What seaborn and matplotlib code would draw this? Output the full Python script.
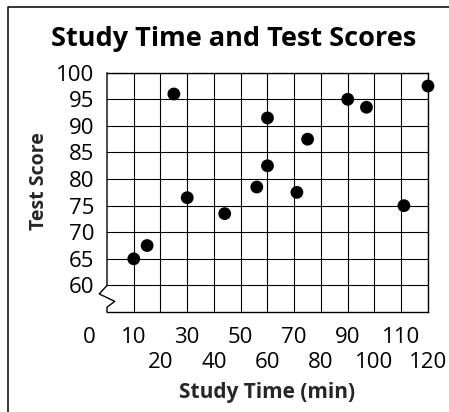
import matplotlib
matplotlib.use("Agg")
import matplotlib.pyplot as plt
from matplotlib.lines import Line2D
import seaborn as sns
import pandas as pd

# Study time (minutes) and test score for each student
study_minutes = [10, 15, 25, 30, 44, 56, 60, 60, 71, 75, 90, 97, 111, 120]
test_scores = [65, 67.5, 96, 76.5, 73.5, 78.5, 82.5, 91.5, 77.5, 87.5, 95, 93.5, 75, 97.5]

y_ticks = [60, 65, 70, 75, 80, 85, 90, 95, 100]
x_ticks_upper = [10, 30, 50, 70, 90, 110]
x_ticks_lower = [20, 40, 60, 80, 100, 120]

title = "Study Time and Test Scores"
x_label = "Study Time (min)"
y_label = "Test Score"

df = pd.DataFrame({"minutes": study_minutes, "score": test_scores})

sns.set_theme(style="white")
plt.rcParams["font.family"] = ["Open Sans", "DejaVu Sans"]

fig = plt.figure(figsize=(4.49, 4.12), dpi=100)
ax = fig.add_axes([0.2383, 0.2427, 0.9532 - 0.2383, 0.8235 - 0.2427])

sns.scatterplot(data=df, x="minutes", y="score", ax=ax, color="black",
                s=85, edgecolor="none", zorder=3, clip_on=False)

ax.set_xlim(0, 120)
ax.set_ylim(55, 100)

ax.set_yticks(y_ticks)
ax.set_yticklabels([str(v) for v in y_ticks])
ax.set_xticks(x_ticks_upper)
ax.set_xticklabels([str(v) for v in x_ticks_upper])
ax.set_xticks(x_ticks_lower, minor=True)
ax.set_xticklabels([str(v) for v in x_ticks_lower], minor=True)

tick_size = 16
ax.tick_params(axis="both", which="both", length=0, labelsize=tick_size,
               colors="black")
ax.tick_params(axis="y", pad=9)
ax.tick_params(axis="x", which="major", pad=10.5)
ax.tick_params(axis="x", which="minor", pad=29)

ax.grid(True, which="both", color="black", linewidth=0.8)
ax.set_axisbelow(True)

for side in ["top", "right", "bottom"]:
    ax.spines[side].set_visible(True)
    ax.spines[side].set_color("black")
    ax.spines[side].set_linewidth(1.0)
ax.spines["left"].set_visible(False)

# Left axis with a break symbol below 60
ax.add_line(Line2D([0, 0, -2.9, 2.9, 0, 0],
                   [100, 60, 58.4, 57.0, 55.9, 55],
                   color="black", linewidth=1.0, clip_on=False, zorder=4))

# Origin label
ax.annotate("0", xy=(-6.8, 55), xycoords="data", xytext=(0, -10.5),
            textcoords="offset points", ha="center", va="top",
            fontsize=tick_size, color="black", annotation_clip=False)

ax.set_xlabel(x_label, fontsize=15, fontweight="bold", labelpad=6.5)
ax.set_ylabel(y_label, fontsize=14, fontweight="bold")
ax.yaxis.set_label_coords(-0.18, 0.547)

fig.text(233.5 / 449, 1 - 39 / 412, title, ha="center", va="center",
         fontsize=19.5, fontweight="bold", color="black")

# Frame lines along the top and left of the figure
fig.add_artist(Line2D([8 / 449, 8 / 449, 1.0], [0.0, 1 - 7 / 412, 1 - 7 / 412],
                      transform=fig.transFigure, color="black", linewidth=1.1))

fig.savefig("out.png", dpi=100)
